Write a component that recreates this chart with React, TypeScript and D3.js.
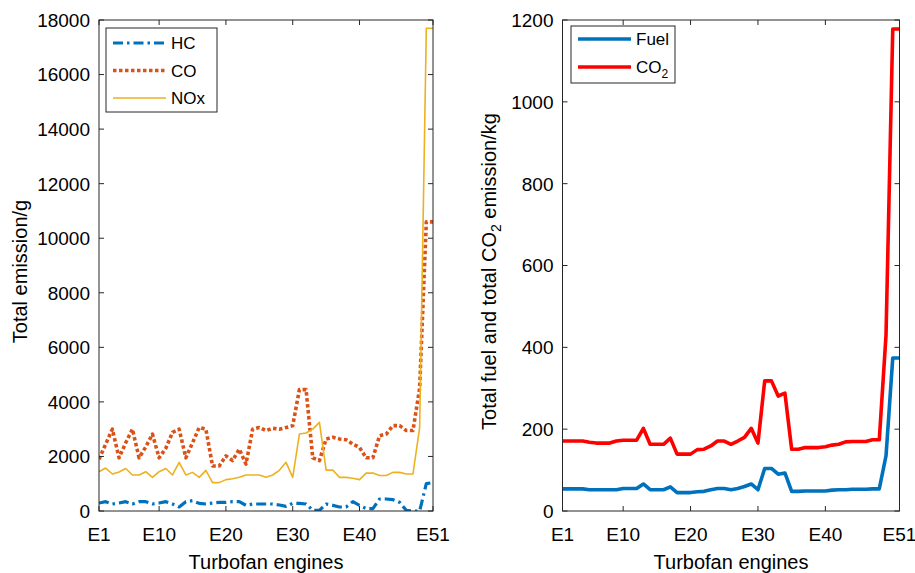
import React from "react";
import * as d3 from "d3";

// engine categories E1..E51
const engines = Array.from({ length: 51 }, (_, i) => `E${i + 1}`);

// left panel, grams
const hc = [
  293, 342, 257, 293, 342, 257, 342, 342, 257, 293,
  342, 257, 147, 342, 378, 280, 257, 293, 317, 317,
  342, 342, 208, 257, 257, 257, 257, 220, 171, 280,
  280, 257, 24, 24, 257, 208, 147, 147, 342, 208,
  85, 85, 440, 440, 415, 317, 24, 0, 0, 1003, 1040,
];
const co = [
  1900, 2450, 3000, 1950, 2500, 3000, 1950, 2350, 2820, 1950,
  2300, 2880, 3000, 1950, 2500, 3060, 3000, 1650, 1650, 2020,
  1850, 2270, 1720, 3000, 3060, 2950, 3030, 3000, 3060, 3130,
  4450, 4450, 1950, 1850, 2640, 2700, 2640, 2610, 2450, 2330,
  1950, 1950, 2760, 2820, 3130, 3130, 2950, 2950, 4500, 10600, 10600,
];
const nox = [
  1440, 1575, 1356, 1430, 1560, 1320, 1320, 1440, 1234, 1440,
  1560, 1320, 1784, 1320, 1416, 1234, 1490, 1040, 1040, 1150,
  1185, 1234, 1320, 1320, 1320, 1234, 1320, 1490, 1784, 1234,
  2820, 2860, 3000, 3250, 1500, 1500, 1234, 1234, 1200, 1150,
  1390, 1390, 1300, 1300, 1416, 1416, 1356, 1356, 3060, 17700, 17700,
];

// right panel, kg
const fuel = [
  54, 54, 54, 54, 52, 52, 52, 52, 52, 55,
  55, 55, 66, 52, 52, 52, 59, 45, 45, 45,
  47, 48, 52, 55, 55, 52, 55, 60, 66, 52,
  104, 104, 90, 93, 48, 48, 49, 49, 49, 49,
  51, 52, 52, 53, 53, 53, 54, 54, 135, 374, 374,
];
const co2 = [
  171, 171, 171, 171, 168, 166, 166, 166, 171, 173,
  173, 173, 202, 163, 163, 163, 178, 139, 139, 139,
  150, 151, 159, 171, 171, 163, 171, 180, 202, 166,
  318, 318, 281, 288, 151, 151, 155, 155, 155, 157,
  161, 163, 169, 170, 170, 170, 174, 174, 430, 1178, 1178,
];

const leftYTicks = [0, 2000, 4000, 6000, 8000, 10000, 12000, 14000, 16000, 18000];
const rightYTicks = [0, 200, 400, 600, 800, 1000, 1200];
const xTickEngines = ["E1", "E10", "E20", "E30", "E40", "E51"];

const FONT = "'Liberation Sans', Arial, Helvetica, sans-serif";
const AXIS = "#262626";

type Series = {
  name: React.ReactNode;
  values: number[];
  color: string;
  width: number;
  dash?: string;
};

type PanelProps = {
  left: number;
  right: number;
  top: number;
  bottom: number;
  yMax: number;
  yTicks: number[];
  series: Series[];
  legend: { x: number; y: number; w: number; h: number; row: number; first: number };
  yLabel: React.ReactNode;
  yLabelX: number;
};

function Panel({ left, right, top, bottom, yMax, yTicks, series, legend, yLabel, yLabelX }: PanelProps) {
  const x = d3.scaleLinear().domain([1, engines.length]).range([left, right]);
  const y = d3.scaleLinear().domain([0, yMax]).range([bottom, top]);
  const line = d3
    .line<number>()
    .x((_, i) => x(i + 1))
    .y((d) => y(d));
  const tl = 5;

  return (
    <g>
      <clipPath id={`clip-${left}`}>
        <rect x={left} y={top - 2} width={right - left + 2} height={bottom - top + 2} />
      </clipPath>
      {series.map((s, k) => (
        <path
          key={k}
          d={line(s.values) || ""}
          fill="none"
          stroke={s.color}
          strokeWidth={s.width}
          strokeDasharray={s.dash}
          strokeLinejoin="round"
          clipPath={`url(#clip-${left})`}
        />
      ))}
      <rect x={left} y={top} width={right - left} height={bottom - top} fill="none" stroke={AXIS} strokeWidth={1} />
      {yTicks.map((t) => (
        <g key={t}>
          <line x1={left} x2={left + tl} y1={y(t)} y2={y(t)} stroke={AXIS} />
          <line x1={right} x2={right - tl} y1={y(t)} y2={y(t)} stroke={AXIS} />
          <text x={left - 9} y={y(t)} dy="0.36em" textAnchor="end" fontSize={19} fill="#000">
            {t}
          </text>
        </g>
      ))}
      {xTickEngines.map((e) => {
        const xi = x(engines.indexOf(e) + 1);
        return (
          <g key={e}>
            <line x1={xi} x2={xi} y1={bottom} y2={bottom - tl} stroke={AXIS} />
            <line x1={xi} x2={xi} y1={top} y2={top + tl} stroke={AXIS} />
            <text x={xi} y={bottom + 30} textAnchor="middle" fontSize={19} fill="#000">
              {e}
            </text>
          </g>
        );
      })}
      <text x={(left + right) / 2} y={569} textAnchor="middle" fontSize={20} fill="#000">
        Turbofan engines
      </text>
      <text
        transform={`translate(${yLabelX},${(top + bottom) / 2 + 6}) rotate(-90)`}
        textAnchor="middle"
        fontSize={20}
        fill="#000"
      >
        {yLabel}
      </text>
      <rect x={legend.x} y={legend.y} width={legend.w} height={legend.h} fill="#fff" stroke={AXIS} strokeWidth={1} />
      {series.map((s, k) => {
        const ly = legend.first + k * legend.row;
        return (
          <g key={k}>
            <line
              x1={legend.x + 7}
              x2={legend.x + 60}
              y1={ly}
              y2={ly}
              stroke={s.color}
              strokeWidth={s.width}
              strokeDasharray={s.dash}
            />
            <text x={legend.x + 65} y={ly} dy="0.36em" fontSize={17} fill="#000">
              {s.name}
            </text>
          </g>
        );
      })}
    </g>
  );
}

export default function App() {
  const co2Label = (
    <>
      CO<tspan dy={5} fontSize={12}>2</tspan>
    </>
  );
  return (
    <svg
      width={915}
      height={573}
      style={{ position: "absolute", left: 0, top: 0, background: "#fff" }}
      fontFamily={FONT}
    >
      <Panel
        left={99}
        right={433}
        top={20}
        bottom={511}
        yMax={18000}
        yTicks={leftYTicks}
        yLabelX={27}
        yLabel="Total emission/g"
        legend={{ x: 106, y: 28, w: 111, h: 84, row: 27.5, first: 43 }}
        series={[
          { name: "HC", values: hc, color: "#0072BD", width: 3.2, dash: "10,4,2.5,4" },
          { name: "CO", values: co, color: "#D95319", width: 3.6, dash: "3.5,2.5" },
          { name: "NOx", values: nox, color: "#EDB120", width: 1.6 },
        ]}
      />
      <Panel
        left={562.5}
        right={899.5}
        top={20}
        bottom={511}
        yMax={1200}
        yTicks={rightYTicks}
        yLabelX={496}
        yLabel={
          <>
            Total fuel and total CO<tspan dy={5} fontSize={14}>2</tspan>
            <tspan dy={-5}> emission/kg</tspan>
          </>
        }
        legend={{ x: 571, y: 26, w: 104, h: 57, row: 28, first: 39 }}
        series={[
          { name: "Fuel", values: fuel, color: "#0072BD", width: 3.6 },
          { name: co2Label, values: co2, color: "#FF0000", width: 3.6 },
        ]}
      />
    </svg>
  );
}
